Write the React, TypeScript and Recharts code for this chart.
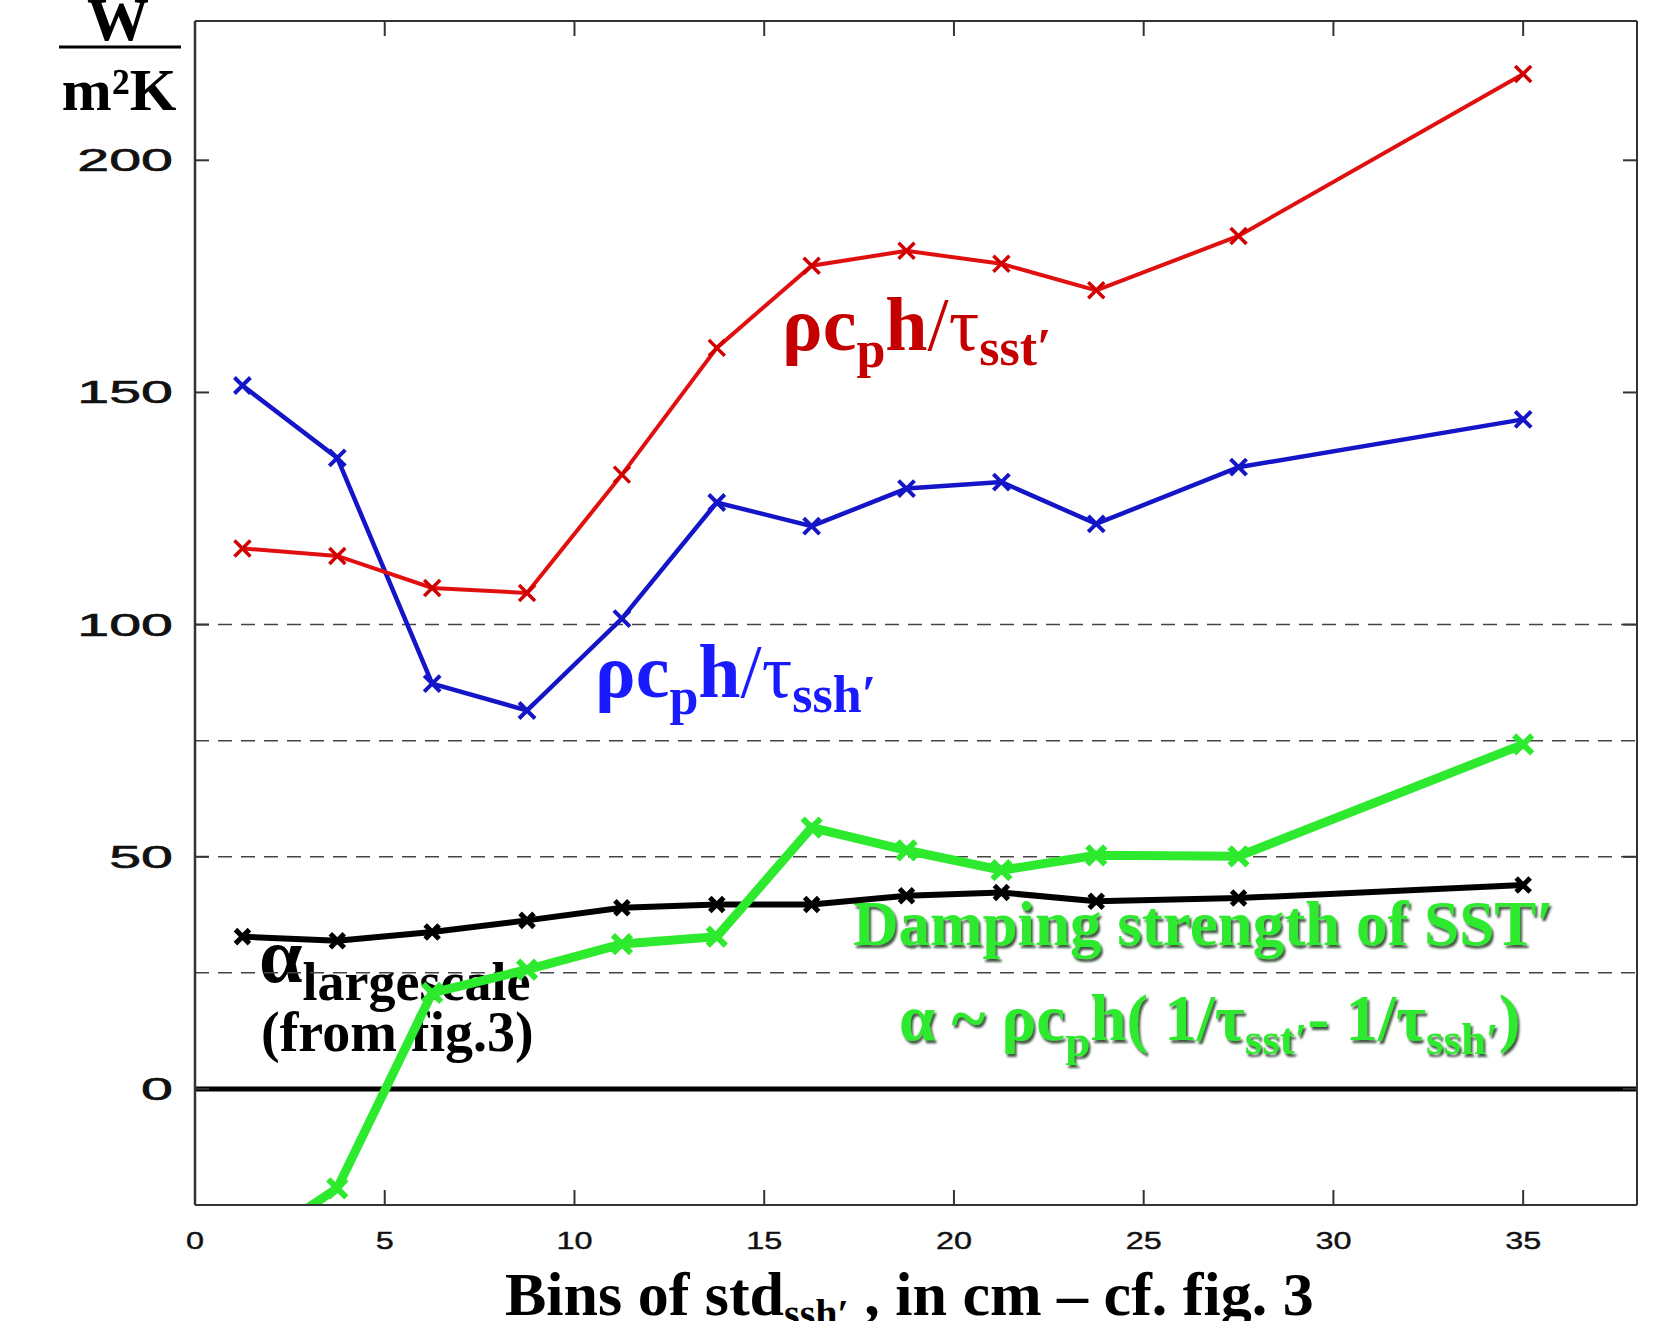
import { LineChart, Line, XAxis, YAxis, ReferenceLine, Customized } from "recharts"

// bin centres (std of ssh', cm)
const bins = [1.25, 3.75, 6.25, 8.75, 11.25, 13.75, 16.25, 18.75, 21.25, 23.75, 27.5, 35]
// rho cp h / tau_sst'
const tauSst = [116.4, 114.8, 107.9, 106.8, 132.3, 159.6, 177.3, 180.5, 177.7, 172.0, 183.7, 218.6]
// rho cp h / tau_ssh'
const tauSsh = [151.5, 135.9, 87.3, 81.5, 101.3, 126.3, 121.2, 129.3, 130.7, 121.7, 133.9, 144.2]
// alpha largescale (from fig.3)
const alphaLargescale = [32.8, 31.9, 33.8, 36.3, 39.0, 39.7, 39.7, 41.6, 42.3, 40.4, 41.1, 43.9]
// damping strength of SST'
const damping = [-35, -21.4, 20.7, 25.7, 31.2, 32.8, 56.3, 51.4, 47.1, 50.3, 50.1, 74.2]

const xTicks = [0, 5, 10, 15, 20, 25, 30, 35]
const yTicks = [0, 50, 100, 150, 200]
const dashedLevels = [25, 50, 75, 100]

const W = 1673
const H = 1321
const serif = "'Liberation Serif', 'Times New Roman', serif"
const sans = "'Liberation Sans', Arial, sans-serif"
const green = "#2eea2e"

const data = bins.map((x, i) => ({
    x,
    sst: tauSst[i],
    ssh: tauSsh[i],
    large: alphaLargescale[i],
    damp: damping[i],
}))

const cross = (color: string, r: number, w: number) => (props: any) => {
    const { cx, cy, index } = props
    if (cx == null || cy == null) return <g key={index} />
    return (
        <path
            key={index}
            d={`M${cx - r},${cy - r}L${cx + r},${cy + r}M${cx - r},${cy + r}L${cx + r},${cy - r}`}
            stroke={color}
            strokeWidth={w}
            fill="none"
        />
    )
}

const LeftTick = (props: any) => {
    const { x, y, payload } = props
    return (
        <g>
            <line x1={x} x2={x + 14} y1={y} y2={y} stroke="#333" strokeWidth={2} />
            <text transform={`translate(${x - 22},${y + 11}) scale(1.85,1)`} textAnchor="end"
                fontFamily={sans} fontSize={31} fill="#111" stroke="#111" strokeWidth={0.6}>{payload.value}</text>
        </g>
    )
}
const RightTick = (props: any) => {
    const { x, y } = props
    return <line x1={x} x2={x - 14} y1={y} y2={y} stroke="#333" strokeWidth={2} />
}
const BottomTick = (props: any) => {
    const { x, y, payload } = props
    return (
        <g>
            <line x1={x} x2={x} y1={y} y2={y - 15} stroke="#333" strokeWidth={2} />
            <text transform={`translate(${x},${y + 44}) scale(1.35,1)`} textAnchor="middle"
                fontFamily={sans} fontSize={24} fill="#111" stroke="#111" strokeWidth={0.4}>{payload.value}</text>
        </g>
    )
}
const TopTick = (props: any) => {
    const { x, y } = props
    return <line x1={x} x2={x} y1={y} y2={y + 15} stroke="#333" strokeWidth={2} />
}

function Annotations() {
    return (
        <g>
            <defs>
                <filter id="shadow" x="-10%" y="-20%" width="120%" height="150%">
                    <feDropShadow dx="2" dy="3" stdDeviation="1.2" floodColor="#1a3a1a" floodOpacity="0.85" />
                </filter>
            </defs>

            {/* unit label W / m2K */}
            <text x={118} y={40} textAnchor="middle" fontFamily={serif} fontWeight="bold" fontSize={62} fill="#000">W</text>
            <line x1={59} x2={181} y1={47} y2={47} stroke="#000" strokeWidth={3} />
            <text x={119} y={110} textAnchor="middle" fontFamily={serif} fontWeight="bold" fontSize={60} fill="#000">m²K</text>

            {/* rho cp h / tau_sst' */}
            <text x={782} y={350} fontFamily={serif} fontSize={76} fill="#c40000" fontWeight="bold">
                <tspan>ρc</tspan>
                <tspan fontSize={52} dy={17}>p</tspan>
                <tspan dy={-17}>h</tspan>
                <tspan fontWeight="normal">/τ</tspan>
                <tspan fontSize={52} dy={15}>sst′</tspan>
            </text>

            {/* rho cp h / tau_ssh' */}
            <text x={595} y={697} fontFamily={serif} fontSize={76} fill="#1a1aff" fontWeight="bold">
                <tspan>ρc</tspan>
                <tspan fontSize={52} dy={17}>p</tspan>
                <tspan dy={-17}>h</tspan>
                <tspan fontWeight="normal">/τ</tspan>
                <tspan fontSize={52} dy={15}>ssh′</tspan>
            </text>

            {/* alpha largescale */}
            <text x={259} y={982} fontFamily={serif} fontSize={78} fill="#000" fontWeight="bold">
                <tspan>α</tspan>
                <tspan fontSize={54} dy={18}>largescale</tspan>
            </text>
            <text x={261} y={1051} fontFamily={serif} fontWeight="bold" fontSize={56} fill="#000">(from fig.3)</text>

            {/* damping strength */}
            <g filter="url(#shadow)">
                <text x={853} y={945} fontFamily={serif} fontWeight="bold" fontSize={63} fill={green}>Damping strength of SST′</text>
                <text x={899} y={1040} fontFamily={serif} fontWeight="bold" fontSize={65} fill={green}>
                    <tspan>α ~ ρc</tspan>
                    <tspan fontSize={45} dy={16}>p</tspan>
                    <tspan dy={-16}>h( 1/τ</tspan>
                    <tspan fontSize={45} dy={14}>sst′</tspan>
                    <tspan dy={-14}>- 1/τ</tspan>
                    <tspan fontSize={45} dy={14}>ssh′</tspan>
                    <tspan dy={-14}>)</tspan>
                </text>
            </g>

            {/* x axis label */}
            <text x={505} y={1315} fontFamily={serif} fontWeight="bold" fontSize={62} fill="#000">
                <tspan>Bins of std</tspan>
                <tspan fontSize={40} dy={12}>ssh′</tspan>
                <tspan dy={-12}> , in cm – cf. fig. 3</tspan>
            </text>
        </g>
    )
}

export default function App() {
    return (
        <div style={{ position: "absolute", left: 0, top: 0, width: W, height: H, background: "#fff" }}>
            <LineChart width={W} height={H} data={data} margin={{ top: 0, right: 0, bottom: 0, left: 0 }}>
                <XAxis dataKey="x" type="number" domain={[0, 38]} ticks={xTicks} allowDataOverflow
                    height={116} tickSize={0} tickMargin={0} tickLine={false} tick={BottomTick}
                    axisLine={{ stroke: "#333", strokeWidth: 2 }} interval={0} />
                <XAxis xAxisId="top" orientation="top" dataKey="x" type="number" domain={[0, 38]} ticks={xTicks}
                    allowDataOverflow height={21} tickSize={0} tickMargin={0} tickLine={false} tick={TopTick}
                    axisLine={{ stroke: "#333", strokeWidth: 2 }} interval={0} />
                <YAxis type="number" domain={[-25, 230]} ticks={yTicks} allowDataOverflow width={195}
                    tickSize={0} tickMargin={0} tickLine={false} tick={LeftTick}
                    axisLine={{ stroke: "#333", strokeWidth: 2.5 }} interval={0} />
                <YAxis yAxisId="right" orientation="right" type="number" domain={[-25, 230]} ticks={yTicks}
                    allowDataOverflow width={36} tickSize={0} tickMargin={0} tickLine={false} tick={RightTick}
                    axisLine={{ stroke: "#333", strokeWidth: 2 }} interval={0} />

                {dashedLevels.map(v => (
                    <ReferenceLine key={v} y={v} stroke="#444" strokeWidth={1.5} strokeDasharray="14 9" />
                ))}
                <ReferenceLine y={0} stroke="#000" strokeWidth={5} />

                <Line dataKey="large" stroke="#000" strokeWidth={6} dot={cross("#000", 7, 5)} isAnimationActive={false} />
                <Line dataKey="ssh" stroke="#1515c8" strokeWidth={4.5} dot={cross("#1515c8", 8, 4)} isAnimationActive={false} />
                <Line dataKey="sst" stroke="#e01010" strokeWidth={4} dot={cross("#d00000", 8, 3.5)} isAnimationActive={false} />
                <Line dataKey="damp" stroke={green} strokeWidth={9} dot={cross(green, 9, 6)} isAnimationActive={false} />

                <Customized component={Annotations} />
            </LineChart>
        </div>
    )
}
